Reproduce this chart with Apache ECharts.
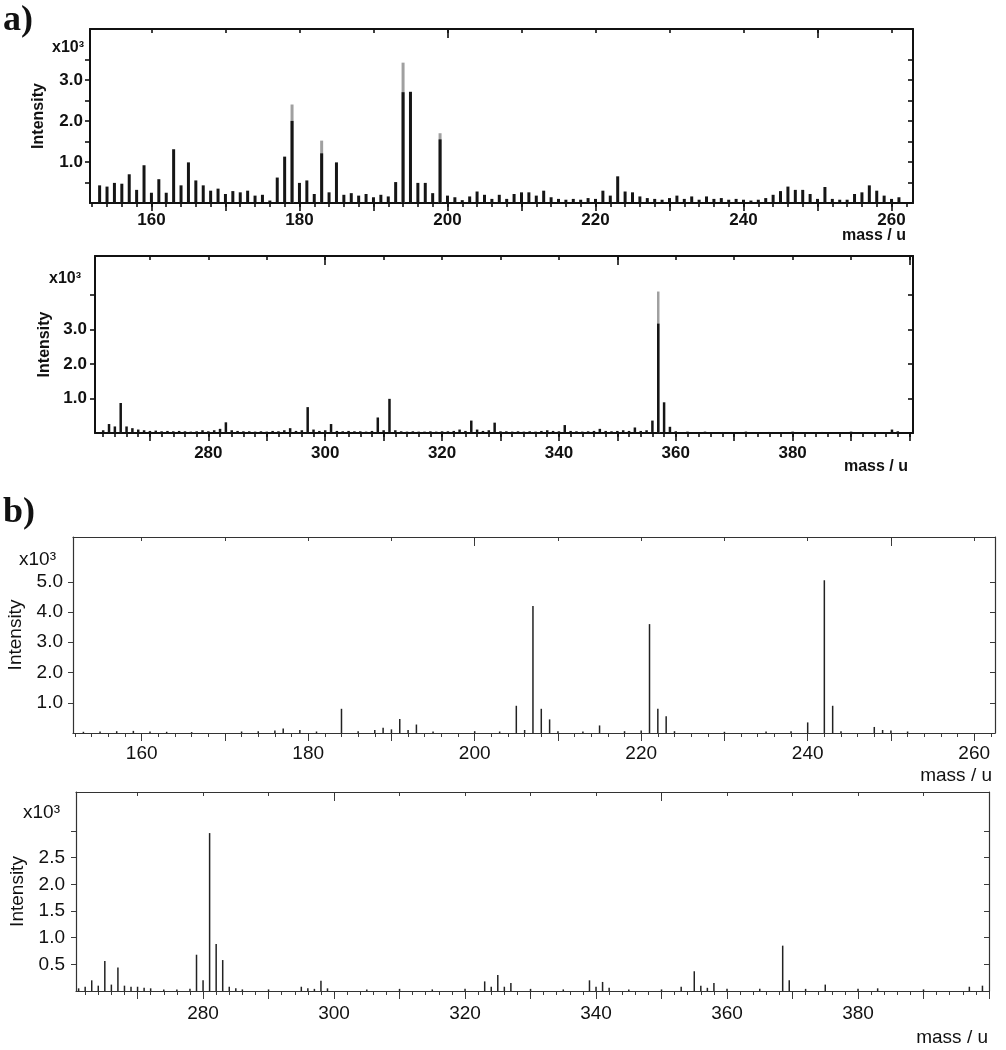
<!DOCTYPE html>
<html>
<head>
<meta charset="utf-8">
<title>mass spectra</title>
<script src="https://cdn.jsdelivr.net/npm/echarts@6/dist/echarts.min.js"></script>
<style>
  html, body { margin: 0; padding: 0; background: #fff; }
  #main { width: 1006px; height: 1050px; }
</style>
</head>
<body>
<div id="main"></div>
<script>
// a) upper trace, sticks [mass, intensity x10^3]
var a1Peaks = [
  [153, 0.43], [154, 0.40], [155, 0.49], [156, 0.47], [157, 0.70], [158, 0.32], [159, 0.92], [160, 0.25],
  [161, 0.58], [162, 0.25], [163, 1.31], [164, 0.43], [165, 0.99], [166, 0.55], [167, 0.43], [168, 0.30],
  [169, 0.35], [170, 0.22], [171, 0.29], [172, 0.26], [173, 0.30], [174, 0.18], [175, 0.20], [176, 0.06],
  [177, 0.62], [178, 1.13], [179, 2.40], [180, 0.49], [181, 0.55], [182, 0.22], [183, 1.52], [184, 0.26],
  [185, 0.99], [186, 0.20], [187, 0.24], [188, 0.18], [189, 0.22], [190, 0.14], [191, 0.20], [192, 0.16],
  [193, 0.51], [194, 3.42], [195, 2.71], [196, 0.49], [197, 0.49], [198, 0.24], [199, 1.70], [200, 0.18],
  [201, 0.14], [202, 0.07], [203, 0.16], [204, 0.28], [205, 0.20], [206, 0.10], [207, 0.20], [208, 0.10],
  [209, 0.22], [210, 0.26], [211, 0.26], [212, 0.18], [213, 0.30], [214, 0.14], [215, 0.10], [216, 0.08],
  [217, 0.10], [218, 0.08], [219, 0.12], [220, 0.10], [221, 0.30], [222, 0.18], [223, 0.65], [224, 0.28],
  [225, 0.26], [226, 0.16], [227, 0.12], [228, 0.10], [229, 0.08], [230, 0.12], [231, 0.18], [232, 0.10],
  [233, 0.16], [234, 0.08], [235, 0.16], [236, 0.10], [237, 0.12], [238, 0.08], [239, 0.10], [240, 0.08],
  [241, 0.06], [242, 0.08], [243, 0.12], [244, 0.20], [245, 0.29], [246, 0.40], [247, 0.32], [248, 0.32],
  [249, 0.22], [250, 0.10], [251, 0.39], [252, 0.10], [253, 0.08], [254, 0.08], [255, 0.22], [256, 0.26],
  [257, 0.43], [258, 0.30], [259, 0.18], [260, 0.10], [261, 0.14]
];
// the tall sticks are pale near the top in the scan: dark part ends here
var a1Dark = [[179, 2.0], [183, 1.21], [194, 2.70], [199, 1.55]];

// a) lower trace
var a2Peaks = [
  [262, 0.08], [263, 0.26], [264, 0.19], [265, 0.87], [266, 0.19], [267, 0.14], [268, 0.10], [269, 0.08],
  [270, 0.06], [271, 0.07], [272, 0.05], [273, 0.06], [274, 0.05], [275, 0.06], [276, 0.05], [277, 0.04],
  [278, 0.05], [279, 0.08], [280, 0.05], [281, 0.08], [282, 0.12], [283, 0.31], [284, 0.08], [285, 0.06],
  [286, 0.05], [287, 0.05], [288, 0.04], [289, 0.05], [290, 0.04], [291, 0.06], [292, 0.05], [293, 0.08],
  [294, 0.14], [295, 0.06], [296, 0.08], [297, 0.75], [298, 0.10], [299, 0.06], [300, 0.08], [301, 0.26],
  [302, 0.06], [303, 0.05], [304, 0.06], [305, 0.05], [306, 0.05], [307, 0.04], [308, 0.06], [309, 0.45],
  [310, 0.08], [311, 0.99], [312, 0.08], [313, 0.05], [314, 0.04], [315, 0.05], [316, 0.04], [317, 0.04],
  [318, 0.05], [319, 0.04], [320, 0.05], [321, 0.05], [322, 0.06], [323, 0.10], [324, 0.06], [325, 0.36],
  [326, 0.10], [327, 0.06], [328, 0.08], [329, 0.30], [330, 0.05], [331, 0.05], [332, 0.04], [333, 0.05],
  [334, 0.04], [335, 0.05], [336, 0.04], [337, 0.06], [338, 0.08], [339, 0.06], [340, 0.05], [341, 0.23],
  [342, 0.06], [343, 0.05], [344, 0.04], [345, 0.05], [346, 0.06], [347, 0.12], [348, 0.06], [349, 0.05],
  [350, 0.06], [351, 0.08], [352, 0.06], [353, 0.16], [354, 0.06], [355, 0.08], [356, 0.36], [357, 4.10],
  [358, 0.89], [359, 0.18], [360, 0.05], [362, 0.04], [365, 0.04], [368, 0.03], [372, 0.04], [376, 0.03],
  [380, 0.04], [385, 0.03], [390, 0.04], [394, 0.03], [397, 0.10], [398, 0.05]
];
var a2Dark = [[357, 3.17]];

// b) upper trace
var b1Peaks = [
  [153, 0.04], [155, 0.05], [157, 0.06], [159, 0.07], [161, 0.05], [163, 0.04], [166, 0.03], [172, 0.05],
  [174, 0.06], [176, 0.08], [177, 0.15], [179, 0.10], [181, 0.05], [184, 0.80], [186, 0.06], [188, 0.10],
  [189, 0.17], [190, 0.12], [191, 0.46], [192, 0.10], [193, 0.28], [195, 0.05], [200, 0.06], [203, 0.05],
  [205, 0.90], [206, 0.10], [207, 4.20], [208, 0.80], [209, 0.45], [210, 0.06], [213, 0.05], [215, 0.25],
  [218, 0.06], [220, 0.08], [221, 3.60], [222, 0.80], [223, 0.55], [224, 0.06], [230, 0.04], [235, 0.05],
  [238, 0.06], [240, 0.35], [242, 5.05], [243, 0.90], [244, 0.06], [248, 0.20], [249, 0.10], [250, 0.08],
  [252, 0.05]
];

// b) lower trace
var b2Peaks = [
  [261, 0.05], [262, 0.08], [263, 0.20], [264, 0.10], [265, 0.56], [266, 0.12], [267, 0.44], [268, 0.10],
  [269, 0.08], [270, 0.08], [271, 0.06], [272, 0.05], [274, 0.03], [276, 0.03], [278, 0.04], [279, 0.68],
  [280, 0.20], [281, 2.96], [282, 0.88], [283, 0.58], [284, 0.08], [285, 0.05], [286, 0.03], [290, 0.03],
  [295, 0.08], [296, 0.05], [297, 0.04], [298, 0.19], [299, 0.05], [305, 0.03], [310, 0.04], [315, 0.03],
  [320, 0.04], [323, 0.18], [324, 0.08], [325, 0.30], [326, 0.08], [327, 0.15], [330, 0.04], [335, 0.03],
  [339, 0.20], [340, 0.08], [341, 0.17], [342, 0.06], [345, 0.03], [350, 0.03], [353, 0.08], [355, 0.37],
  [356, 0.10], [357, 0.06], [358, 0.15], [360, 0.04], [365, 0.04], [368.5, 0.85], [369.5, 0.20], [372, 0.04],
  [375, 0.12], [380, 0.04], [383, 0.05], [390, 0.03], [397, 0.08], [399, 0.10]
];

// tick labels
var a1XLabels = [160, 180, 200, 220, 240, 260];
var a2XLabels = [280, 300, 320, 340, 360, 380];
var b1XLabels = [160, 180, 200, 220, 240, 260];
var b2XLabels = [280, 300, 320, 340, 360, 380];
var a1YLabels = [1, 2, 3];
var a2YLabels = [1, 2, 3];
var b1YLabels = [1, 2, 3, 4, 5];
var b2YLabels = [0.5, 1, 1.5, 2, 2.5];

function steps(from, to, step) {
  var out = [];
  for (var v = Math.ceil(from / step - 1e-9) * step; v <= to + 1e-9; v += step) {
    out.push(+v.toFixed(2));
  }
  return out;
}

var lookA = { line: 2, color: '#111', weight: 'bold', size: 17, nameSize: 16, bar: '#151515' };
var lookB = { line: 1.2, color: '#333', weight: 'normal', size: 19, nameSize: 19, bar: '#222' };

var panels = [
  { peaks: a1Peaks, dark: a1Dark, look: lookA, grid: { left: 90, top: 29, width: 823, height: 174 },
    xMin: 151.7, xMax: 262.9, yMax: 4.24, xLabels: a1XLabels, yLabels: a1YLabels,
    yTicks: steps(0.5, 3.5, 0.5), barWidth: 3, xMargin: 9, yMargin: 7, nameGap: 43 },
  { peaks: a2Peaks, dark: a2Dark, look: lookA, grid: { left: 95, top: 256, width: 818, height: 177 },
    xMin: 260.6, xMax: 400.6, yMax: 5.13, xLabels: a2XLabels, yLabels: a2YLabels,
    yTicks: steps(1, 4, 1), barWidth: 2.5, xMargin: 12, yMargin: 8, nameGap: 42 },
  { peaks: b1Peaks, dark: [], look: lookB, grid: { left: 73, top: 537, width: 922, height: 196 },
    xMin: 151.75, xMax: 262.5, yMax: 6.48, xLabels: b1XLabels, yLabels: b1YLabels,
    yTicks: steps(1, 5, 1), barWidth: 1.5, xMargin: 11, yMargin: 10, nameGap: 48 },
  { peaks: b2Peaks, dark: [], look: lookB, grid: { left: 76, top: 792, width: 913, height: 199 },
    xMin: 260.6, xMax: 400, yMax: 3.73, xLabels: b2XLabels, yLabels: b2YLabels,
    yTicks: steps(0.5, 3.0, 0.5), barWidth: 1.5, xMargin: 13, yMargin: 11, nameGap: 46 }
];

var sans = '"Liberation Sans", Arial, sans-serif';
var option = {
  animation: false,
  backgroundColor: '#fff',
  grid: [], xAxis: [], yAxis: [], series: [], graphic: []
};

panels.forEach(function (p, i) {
  var L = p.look;
  option.grid.push(Object.assign({ outerBoundsMode: 'none' }, p.grid));
  var frame = { color: L.color, width: L.line };
  var tick = { color: L.color, width: L.line * 0.8 };
  var label = { color: '#111', fontFamily: sans, fontWeight: L.weight, fontSize: L.size };
  var base = { gridIndex: i, type: 'value', min: p.xMin, max: p.xMax, splitLine: { show: false } };

  // bottom: short ticks every 2 u
  option.xAxis.push(Object.assign({}, base, {
    position: 'bottom',
    axisLine: { show: true, onZero: false, lineStyle: frame },
    axisTick: { show: true, customValues: steps(p.xMin, p.xMax, 2), length: 4, lineStyle: tick },
    axisLabel: { show: false }
  }));
  // bottom: long ticks every 10 u, labels every 20 u
  option.xAxis.push(Object.assign({}, base, {
    position: 'bottom',
    axisLine: { show: false, onZero: false },
    axisTick: { show: true, customValues: steps(p.xMin, p.xMax, 10), length: 8, lineStyle: tick },
    axisLabel: Object.assign({ customValues: p.xLabels, margin: p.xMargin }, label)
  }));
  // top: inward ticks every 10 u
  option.xAxis.push(Object.assign({}, base, {
    position: 'top',
    axisLine: { show: true, onZero: false, lineStyle: frame },
    axisTick: { show: true, inside: true, customValues: steps(p.xMin, p.xMax, 10), length: 4, lineStyle: tick },
    axisLabel: { show: false }
  }));
  // top: longer ticks every 50 u
  option.xAxis.push(Object.assign({}, base, {
    position: 'top',
    axisLine: { show: false, onZero: false },
    axisTick: { show: true, inside: true, customValues: steps(p.xMin, p.xMax, 50), length: 9, lineStyle: tick },
    axisLabel: { show: false }
  }));

  option.yAxis.push({
    gridIndex: i, type: 'value', min: 0, max: p.yMax, position: 'left',
    splitLine: { show: false },
    axisLine: { show: true, onZero: false, lineStyle: frame },
    axisTick: { show: true, customValues: p.yTicks, length: 5, lineStyle: tick },
    axisLabel: Object.assign({
      customValues: p.yLabels, margin: p.yMargin,
      formatter: function (v) { return v.toFixed(1); }
    }, label),
    name: 'Intensity', nameLocation: 'middle', nameRotate: 90, nameGap: p.nameGap,
    nameTextStyle: { color: '#111', fontFamily: sans, fontWeight: L.weight, fontSize: L.nameSize }
  });
  option.yAxis.push({
    gridIndex: i, type: 'value', min: 0, max: p.yMax, position: 'right',
    splitLine: { show: false },
    axisLine: { show: true, onZero: false, lineStyle: frame },
    axisTick: { show: true, inside: true, customValues: p.yTicks, length: 5, lineStyle: tick },
    axisLabel: { show: false }
  });

  var darkTop = {};
  p.dark.forEach(function (d) { darkTop[d[0]] = d[1]; });

  if (p.dark.length) {
    option.series.push({
      type: 'bar', xAxisIndex: i * 4, yAxisIndex: i * 2, silent: true,
      barWidth: p.barWidth, barGap: '-100%',
      itemStyle: { color: '#a0a0a0' },
      data: p.peaks.filter(function (d) { return darkTop[d[0]] !== undefined; })
    });
  }
  option.series.push({
    type: 'bar', xAxisIndex: i * 4, yAxisIndex: i * 2, silent: true,
    barWidth: p.barWidth, barGap: '-100%',
    itemStyle: { color: L.bar },
    data: p.peaks.map(function (d) {
      return darkTop[d[0]] !== undefined ? [d[0], darkTop[d[0]]] : d;
    })
  });
});

var texts = [
  { text: 'a)', x: 3, y: 21, font: 'bold 36px "Liberation Serif", serif', align: 'left' },
  { text: 'b)', x: 3, y: 513, font: 'bold 36px "Liberation Serif", serif', align: 'left' },
  { text: 'x10³', x: 84, y: 48, font: 'bold 16px ' + sans, align: 'right' },
  { text: 'x10³', x: 81, y: 279, font: 'bold 16px ' + sans, align: 'right' },
  { text: 'x10³', x: 56, y: 560, font: '19px ' + sans, align: 'right' },
  { text: 'x10³', x: 60, y: 813, font: '19px ' + sans, align: 'right' },
  { text: 'mass / u', x: 906, y: 236, font: 'bold 16px ' + sans, align: 'right' },
  { text: 'mass / u', x: 908, y: 467, font: 'bold 16px ' + sans, align: 'right' },
  { text: 'mass / u', x: 992, y: 776, font: '19px ' + sans, align: 'right' },
  { text: 'mass / u', x: 988, y: 1038, font: '19px ' + sans, align: 'right' }
];
texts.forEach(function (t) {
  option.graphic.push({
    type: 'text', x: t.x, y: t.y, silent: true,
    style: { text: t.text, font: t.font, fill: '#111', align: t.align, verticalAlign: 'middle' }
  });
});

var chart = echarts.init(document.getElementById('main'), null, { renderer: 'canvas' });
chart.setOption(option);
</script>
</body>
</html>
